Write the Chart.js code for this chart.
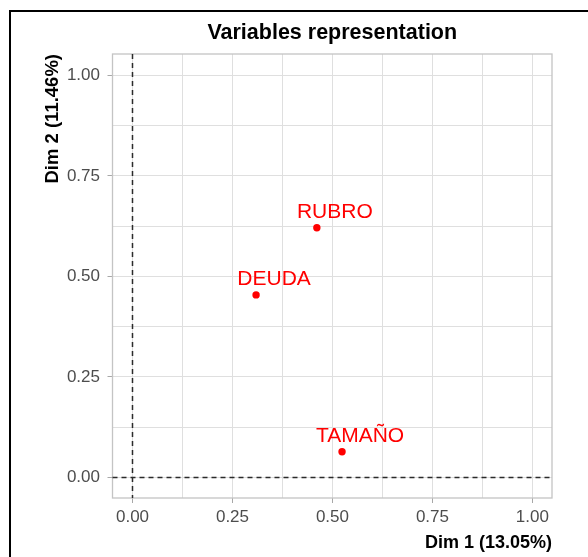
<!DOCTYPE html>
<html>
<head>
<meta charset="utf-8">
<script src="https://cdn.jsdelivr.net/npm/chart.js@4.4.1/dist/chart.umd.min.js"></script>
<style>
  html, body { margin: 0; padding: 0; background: #fff; }
  #wrap { position: relative; width: 588px; height: 557px; overflow: hidden; }
  #frame { position: absolute; left: 9px; top: 10px; width: 700px; height: 700px;
           border-left: 2px solid #000; border-top: 2px solid #000; pointer-events: none; }
</style>
</head>
<body>
<div id="wrap">
  <canvas id="varChart" width="588" height="557"></canvas>
  <div id="frame"></div>
</div>
<script>
'use strict';

// variables (PCA-like correlation coords)
var varNames = ['RUBRO', 'DEUDA', 'TAMAÑO'];
var dim1 = [0.461, 0.309, 0.524];
var dim2 = [0.621, 0.454, 0.064];

// grid lines every 0.125, labels every 0.25
var gridValues = [0, 0.125, 0.25, 0.375, 0.5, 0.625, 0.75, 0.875, 1];
var tickLabels = ['0.00', '0.25', '0.50', '0.75', '1.00'];

var FONT = "'Liberation Sans', Arial, sans-serif";
var GRID = '#dfdfdf';

function isMajor(v) {
  return tickLabels.indexOf(v.toFixed(2)) !== -1;
}

function setTicks(scale) {
  scale.ticks = gridValues.map(function(v) { return { value: v }; });
}

function tickColor(ctx) {
  return (ctx.tick && isMajor(ctx.tick.value)) ? '#a8a8a8' : 'rgba(0,0,0,0)';
}

var points = varNames.map(function(n, i) {
  return { x: dim1[i], y: dim2[i] };
});

// panel border + dashed zero lines + labels
var panelPlugin = {
  id: 'panel',
  beforeDatasetsDraw: function(chart) {
    var ctx = chart.ctx, a = chart.chartArea;
    var x0 = chart.scales.x.getPixelForValue(0);
    var y0 = chart.scales.y.getPixelForValue(0);
    ctx.save();
    ctx.strokeStyle = '#c4c4c4';
    ctx.lineWidth = 1.3;
    ctx.strokeRect(a.left, a.top, a.right - a.left, a.bottom - a.top);
    ctx.strokeStyle = '#2b2b2b';
    ctx.lineWidth = 1.5;
    ctx.setLineDash([5, 4]);
    ctx.beginPath();
    ctx.moveTo(x0, a.top);
    ctx.lineTo(x0, a.bottom);
    ctx.moveTo(a.left, y0);
    ctx.lineTo(a.right, y0);
    ctx.stroke();
    ctx.restore();
  },
  afterDatasetsDraw: function(chart) {
    var ctx = chart.ctx;
    var meta = chart.getDatasetMeta(0);
    ctx.save();
    ctx.fillStyle = '#ff0000';
    ctx.font = '21px ' + FONT;
    ctx.textAlign = 'center';
    ctx.textBaseline = 'alphabetic';
    meta.data.forEach(function(pt, i) {
      ctx.fillText(varNames[i], pt.x + 18, pt.y - 10);
    });
    ctx.restore();
  }
};

var chart = new Chart(document.getElementById('varChart').getContext('2d'), {
  type: 'scatter',
  data: {
    datasets: [{
      data: points,
      backgroundColor: '#ff0000',
      borderColor: '#ff0000',
      pointRadius: 3.7,
      pointBorderWidth: 0
    }]
  },
  options: {
    responsive: false,
    animation: false,
    layout: { padding: { left: 0, top: 0, right: 36, bottom: 0 } },
    plugins: {
      legend: { display: false },
      tooltip: { enabled: false },
      title: {
        display: true,
        text: 'Variables representation',
        fullSize: false,
        color: '#000',
        font: { family: FONT, size: 21.5, weight: 'bold', lineHeight: 1.2 },
        padding: { top: 20, bottom: 8.2 }
      }
    },
    scales: {
      x: {
        type: 'linear',
        min: -0.05,
        max: 1.049,
        afterBuildTicks: setTicks,
        afterFit: function(scale) { scale.height = 59; },
        grid: { color: GRID, lineWidth: 1, tickLength: 5, tickColor: tickColor },
        border: { display: false },
        ticks: {
          padding: 4,
          color: '#4d4d4d',
          font: { family: FONT, size: 17 },
          maxRotation: 0,
          autoSkip: false,
          callback: function(v) { return isMajor(v) ? v.toFixed(2) : ''; }
        },
        title: {
          display: true,
          text: 'Dim 1 (13.05%)',
          align: 'end',
          color: '#000',
          font: { family: FONT, size: 18, weight: 'bold', lineHeight: 1.2 },
          padding: { top: 0, bottom: 3 }
        }
      },
      y: {
        type: 'linear',
        min: -0.051,
        max: 1.053,
        afterBuildTicks: setTicks,
        afterFit: function(scale) { scale.width = 112.5; },
        grid: { color: GRID, lineWidth: 1, tickLength: 5, tickColor: tickColor },
        border: { display: false },
        ticks: {
          padding: 7.5,
          color: '#4d4d4d',
          font: { family: FONT, size: 17 },
          autoSkip: false,
          callback: function(v) { return isMajor(v) ? v.toFixed(2) : ''; }
        },
        title: {
          display: true,
          text: 'Dim 2 (11.46%)',
          align: 'end',
          color: '#000',
          font: { family: FONT, size: 18.5, weight: 'bold', lineHeight: 1.2 },
          padding: { top: 42, bottom: 0 }
        }
      }
    }
  },
  plugins: [panelPlugin]
});
</script>
</body>
</html>
